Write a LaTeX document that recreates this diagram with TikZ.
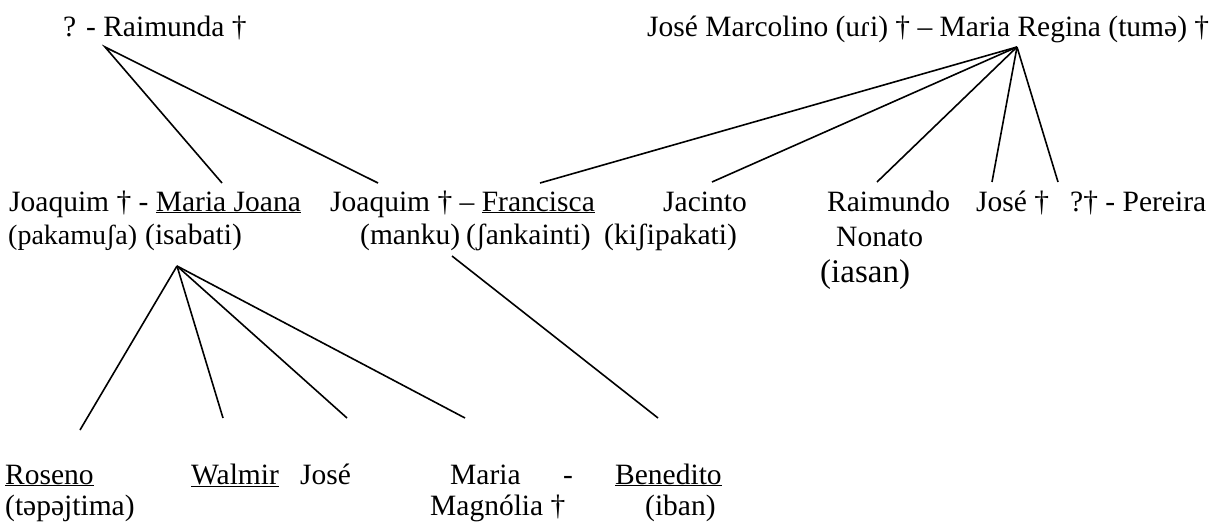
\documentclass[tikz,border=0pt]{standalone}
\usepackage{fontspec}
\setmainfont{Liberation Serif}
\newcommand\fsmain{\fontsize{29.5}{32}\selectfont}
\newcommand\fssmall{\fontsize{28}{30}\selectfont}
\newcommand\fsbig{\fontsize{33}{35}\selectfont}
\begin{document}
\begin{tikzpicture}[x=1pt,y=-1pt,
  lbl/.style={inner sep=0pt, anchor=base west, font=\fsmain},
  small/.style={lbl, font=\fssmall},
  big/.style={lbl, font=\fsbig},
  link/.style={line width=1.6pt}]
\useasboundingbox (0,0) rectangle (1221,522);

% first generation
\node[lbl] (rai) at (63,36) {? - Raimunda †};
\node[lbl] (jmr) at (647,36) {José Marcolino (uɾi) † – Maria Regina (tumə) †};

% second generation
\node[lbl] (jmj) at (9,211) {Joaquim † - \underline{Maria Joana}};
\node[lbl] (jfr) at (330,211) {Joaquim † – \underline{Francisca}};
\node[lbl] (jac) at (663,211) {Jacinto};
\node[lbl] (rmd) at (827,211) {Raimundo};
\node[lbl] (jos) at (976,211) {José †};
\node[lbl] (per) at (1070,211) {?† - Pereira};
\node[small] (pak) at (8,244) {(pakamuʃa)};
\node[lbl] (isa) at (145,244) {(isabati)};
\node[lbl] (man) at (360,244) {(manku)};
\node[lbl] (sha) at (466,244) {(ʃankainti)};
\node[lbl] (kis) at (604,244) {(kiʃipakati)};
\node[lbl] (non) at (836,246) {Nonato};
\node[big] (ias) at (820,282) {(iasan)};

% third generation
\node[lbl] (ros) at (5,484) {\underline{Roseno}};
\node[lbl] (wal) at (191,484) {\underline{Walmir}};
\node[lbl] (jse) at (300,484) {José};
\node[lbl] (mar) at (450,484) {Maria};
\node[lbl] (dsh) at (563,484) {-};
\node[lbl] (ben) at (615,484) {\underline{Benedito}};
\node[lbl] (tep) at (5,515) {(təpəjtima)};
\node[lbl] (mag) at (430,515) {Magnólia †};
\node[lbl] (iba) at (645,515) {(iban)};

% branching points
\coordinate (apexA) at (105,47);
\coordinate (apexB) at (1017,47);
\coordinate (apexC) at (177,266);
\coordinate (apexD) at (452,256);

% line ends above the children
\coordinate (toJmj) at (222,183);
\coordinate (toJfr) at (378,183);
\coordinate (toFra) at (540,183);
\coordinate (toJac) at (712,182);
\coordinate (toRmd) at (877,182);
\coordinate (toJos) at (992,182);
\coordinate (toPer) at (1058,182);
\coordinate (toRos) at (80,430);
\coordinate (toWal) at (223,418);
\coordinate (toJse) at (347,418);
\coordinate (toMar) at (465,418);
\coordinate (toBen) at (658,418);

\draw[link] (toJmj) -- (apexA) -- (toJfr);
\foreach \c in {toFra,toJac,toRmd,toJos,toPer} \draw[link] (apexB) -- (\c);
\foreach \c in {toRos,toWal,toJse,toMar} \draw[link] (apexC) -- (\c);
\draw[link] (apexD) -- (toBen);
\end{tikzpicture}
\end{document}
